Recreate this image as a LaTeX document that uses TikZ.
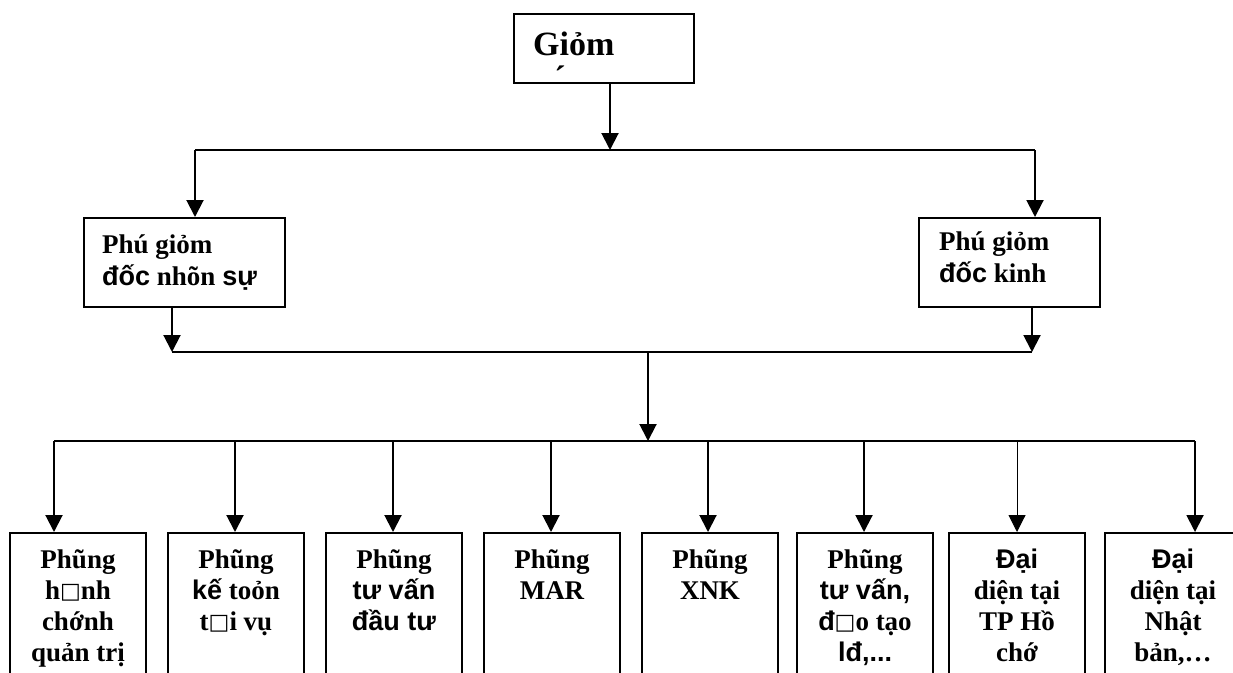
\documentclass[tikz,border=0pt]{standalone}
\usepackage{fontspec}
\setmainfont{Liberation Serif}
\newfontfamily\sansf{Liberation Sans}
\newfontfamily\symf{DejaVu Sans}
\usetikzlibrary{arrows.meta,calc}
% words set in the sans face
\newcommand\sa[1]{{\sansf\bfseries #1}}
% hollow square glyph
\newcommand\sq{\raisebox{1pt}{\symf\fontsize{22}{22}\selectfont □}}
\newcommand\deptfont{\fontsize{27}{31}\selectfont\bfseries\lineskiplimit=-100pt\lineskip=0pt}
\newcommand\vpfont{\fontsize{27}{32}\selectfont\bfseries\lineskiplimit=-100pt\lineskip=0pt}

\begin{document}
\begin{tikzpicture}[x=1pt,y=-1pt,
  box/.style={draw, line width=2pt, inner sep=0pt, anchor=north west},
  dept/.style={box, minimum width=136pt, minimum height=170pt},
  arr/.style={line width=2pt, -{Triangle[width=17pt,length=17pt]}},
  wire/.style={line width=2pt},
  lbl/.style={inner sep=0pt, align=center, anchor=north, font=\deptfont},
  vplbl/.style={inner sep=0pt, align=left, anchor=north west, font=\vpfont},
]
\clip (0,0) rectangle (1233,672);
\fill[white] (0,0) rectangle (1233,672);

% director
\node[box, minimum width=180pt, minimum height=69pt] (top) at (513,13) {};
\node[inner sep=0pt, anchor=base west, font=\fontsize{34}{39}\selectfont\bfseries] (toptxt) at (533,55) {Giỏm};
\node[inner sep=0pt, anchor=base, font=\fontsize{34}{39}\selectfont\bfseries] (topacc) at (560,89) {´};

% deputy directors
\node[box, minimum width=201pt, minimum height=89pt] (vpl) at (83,217) {};
\node[vplbl] (vpltxt) at (102,230.6) {\strut Phú giỏm\\\strut\sa{đốc} nhõn \sa{sự}};
\node[box, minimum width=181pt, minimum height=89pt] (vpr) at (918,217) {};
\node[vplbl] (vprtxt) at (939,227.6) {\strut Phú giỏm\\\strut\sa{đốc} kinh};

% departments
\node[dept] (d1) at (9,532) {};
\node[dept] (d2) at (167,532) {};
\node[dept] (d3) at (325,532) {};
\node[dept] (d4) at (483,532) {};
\node[dept] (d5) at (641,532) {};
\node[dept] (d6) at (796,532) {};
\node[dept] (d7) at (948,532) {};
\node[dept] (d8) at (1104,532) {};

\node[lbl] (t1) at ($(d1.north)+(0,14.3)$) {\strut Phũng\\\strut h\sq nh\\\strut chớnh\\\strut quản trị};
\node[lbl] (t2) at ($(d2.north)+(0,14.3)$) {\strut Phũng\\\strut\sa{kế} toỏn\\\strut t\sq i vụ};
\node[lbl] (t3) at ($(d3.north)+(0,14.3)$) {\strut Phũng\\\strut\sa{tư vấn}\\\strut\sa{đầu tư}};
\node[lbl] (t4) at ($(d4.north)+(0,14.3)$) {\strut Phũng\\\strut MAR};
\node[lbl] (t5) at ($(d5.north)+(0,14.3)$) {\strut Phũng\\\strut XNK};
\node[lbl] (t6) at ($(d6.north)+(0,14.3)$) {\strut Phũng\\\strut\sa{tư vấn,}\\\strut\sa{đ}\sq o tạo\\\strut\sa{lđ,...}};
\node[lbl] (t7) at ($(d7.north)+(0,14.3)$) {\strut\sa{Đại}\\\strut diện tại\\\strut TP Hồ\\\strut chớ};
\node[lbl] (t8) at ($(d8.north)+(0,14.3)$) {\strut\sa{Đại}\\\strut diện tại\\\strut Nhật\\\strut bản,…};

% junction points
\coordinate (j0) at (610,150);
\coordinate (jl) at (195,150);
\coordinate (jr) at (1035,150);
\coordinate (kl) at (172,352);
\coordinate (kr) at (1032,352);
\coordinate (kc) at (648,352);
\coordinate (s1) at (54,441);
\coordinate (s2) at (235,441);
\coordinate (s3) at (393,441);
\coordinate (s4) at (551,441);
\coordinate (s5) at (708,441);
\coordinate (s6) at (864,441);
\coordinate (s7) at (1017,441);
\coordinate (s8) at (1195,441);

% director to deputies
\draw[arr] (j0 |- top.south) -- (j0);
\draw[wire] (jl) -- (jr);
\draw[arr] (jl) -- (jl |- vpl.north);
\draw[arr] (jr) -- (jr |- vpr.north);

% deputies to departments
\draw[arr] (kl |- vpl.south) -- (kl);
\draw[arr] (kr |- vpr.south) -- (kr);
\draw[wire] (kl) -- (kr);
\draw[arr] (kc) -- (s4 -| kc);
\draw[wire] (s1) -- (s8);
\foreach \i in {1,2,3,4,5,6,8}
  \draw[arr] (s\i) -- (s\i |- d\i.north);
\draw[arr, line width=1pt] (s7) -- (s7 |- d7.north);
\end{tikzpicture}
\end{document}
